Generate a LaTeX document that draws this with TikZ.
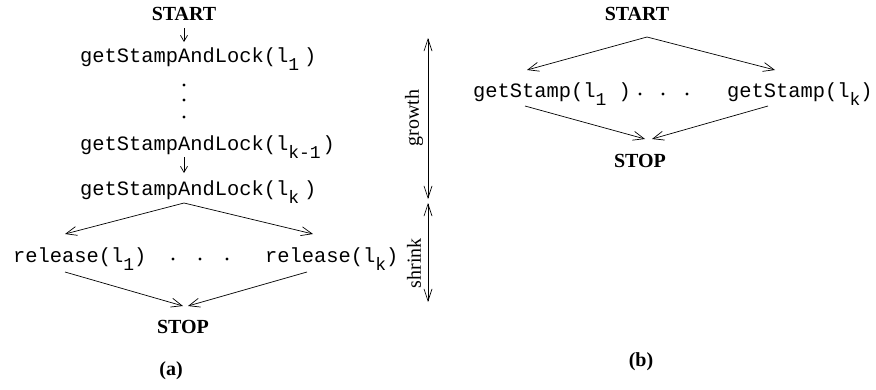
\documentclass[tikz,border=0pt]{standalone}
\usepackage{fontspec}
\setmainfont{Liberation Serif}
\setmonofont{Liberation Mono}
\usetikzlibrary{arrows.meta}

% subscript in the code font: near full-size glyphs, lowered
\newcommand{\csub}[1]{\raisebox{-8pt}{\fontsize{18}{18}\selectfont\ttfamily #1}}

\tikzset{
  code/.style={font=\fontsize{20.4}{22}\selectfont\ttfamily, inner sep=0pt, anchor=base west},
  bold/.style={font=\fontsize{20}{22}\selectfont\bfseries, inner sep=0pt, anchor=base},
  side/.style={font=\fontsize{20}{22}\selectfont, inner sep=0pt, rotate=90},
  flow/.style={line width=0.7pt, -{Straight Barb[length=11pt,width=9pt,line width=0.7pt]}},
  short/.style={line width=0.7pt, -{Straight Barb[length=6pt,width=7pt,line width=0.7pt]}},
  span/.style={line width=0.7pt, {Straight Barb[length=12pt,width=8pt,line width=0.7pt]}-{Straight Barb[length=12pt,width=8pt,line width=0.7pt]}},
  dotmark/.style={fill=black},
}

\begin{document}
\begin{tikzpicture}[x=1pt,y=-1pt]
\useasboundingbox (0,0) rectangle (876,389);

% ---------- (a) two-phase locking ----------
\node[bold] (startA) at (184,20) {START};
\node[code] (lock1)  at (80,62)  {getStampAndLock(l\csub{1}\kern5pt)};
\node[code] (lockk1) at (80,150) {getStampAndLock(l\csub{k-1}\kern2pt)};
\node[code] (lockk)  at (80,195) {getStampAndLock(l\csub{k}\kern5pt)};
\node[code] (rel1)   at (13,262) {release(l\csub{1})};
\node[code] (relk)   at (265,262) {release(l\csub{k})};
\node[bold] (stopA)  at (183,333) {STOP};
\node[bold] (labA)   at (171,375) {(a)};

\foreach \y in {85,100,117} \fill[dotmark] (184,\y) circle (1.6);
\foreach \x in {173,200,227} \fill[dotmark] (\x,259) circle (1.6);

\coordinate (sA)   at (184,28);
\coordinate (l1A)  at (184,42);
\coordinate (kmA)  at (184,157);
\coordinate (kA)   at (184,173);
\coordinate (forkA) at (184,203);
\coordinate (r1in) at (65,234);
\coordinate (rkin) at (313,234);
\coordinate (r1out) at (65,272);
\coordinate (rkout) at (307,272);
\coordinate (stAl) at (183,306);
\coordinate (stAr) at (188,306);

\draw[short] (sA) -- (l1A);
\draw[short] (kmA) -- (kA);
\draw[flow] (forkA) -- (r1in);
\draw[flow] (forkA) -- (rkin);
\draw[flow] (r1out) -- (stAl);
\draw[flow] (rkout) -- (stAr);

% phase extents
\coordinate (gTop) at (428,38);
\coordinate (gBot) at (428,199);
\coordinate (sTop) at (428,203);
\coordinate (sBot) at (428,302);
\draw[span] (gTop) -- (gBot);
\draw[span] (sTop) -- (sBot);
\node[side] (growth) at (414,118) {growth};
\node[side] (shrink) at (414,263) {shrink};

% ---------- (b) stamps only ----------
\node[bold] (startB) at (637,20) {START};
\node[code] (gs1) at (473,97) {getStamp(l\csub{1} )};
\node[code] (gsk) at (727,97) {getStamp(l\csub{k})};
\node[bold] (stopB) at (640,167) {STOP};
\node[bold] (labB)  at (641,366) {(b)};

\foreach \x in {640,663,687} \fill[dotmark] (\x,94) circle (1.6);

\coordinate (forkB) at (647,37);
\coordinate (g1in) at (527,70);
\coordinate (gkin) at (775,70);
\coordinate (g1out) at (525,106);
\coordinate (gkout) at (768,106);
\coordinate (stBl) at (645,139);
\coordinate (stBr) at (652,139);

\draw[flow] (forkB) -- (g1in);
\draw[flow] (forkB) -- (gkin);
\draw[flow] (g1out) -- (stBl);
\draw[flow] (gkout) -- (stBr);
\end{tikzpicture}
\end{document}
